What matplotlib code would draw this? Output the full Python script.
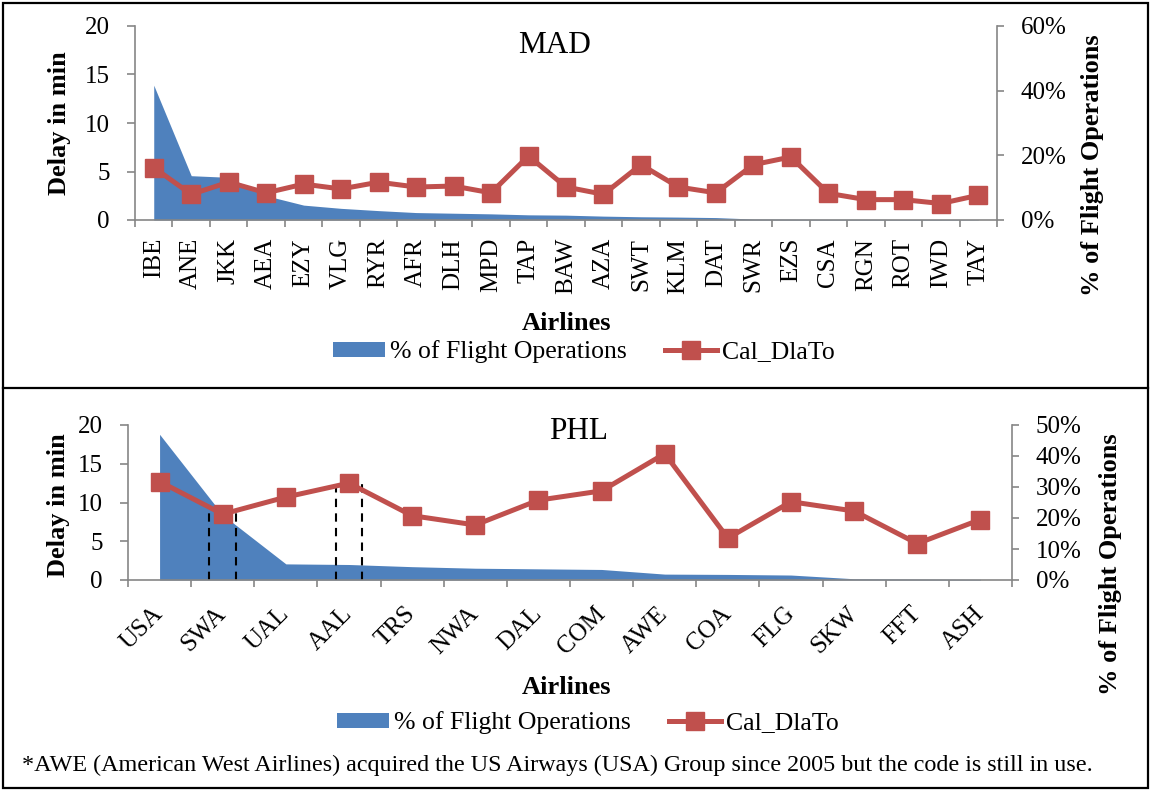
import numpy as np
import matplotlib
matplotlib.use("Agg")
import matplotlib.pyplot as plt
from matplotlib.patches import Patch, Rectangle
from matplotlib.lines import Line2D
from matplotlib.ticker import PercentFormatter

plt.rcParams['font.family'] = ['Liberation Serif', 'DejaVu Serif']

BLUE = '#4F81BD'
RED = '#C0504D'
GRAY = '#868686'

# MAD data
mad_airlines = ['IBE', 'ANE', 'JKK', 'AEA', 'EZY', 'VLG', 'RYR', 'AFR', 'DLH', 'MPD', 'TAP', 'BAW',
                'AZA', 'SWT', 'KLM', 'DAT', 'SWR', 'EZS', 'CSA', 'RGN', 'ROT', 'IWD', 'TAY']
mad_ops = [41.7, 13.7, 13.2, 7.5, 4.6, 3.6, 2.9, 2.3, 2.1, 1.9, 1.6, 1.5,
           1.2, 1.0, 0.9, 0.75, 0.3, 0.25, 0.2, 0.2, 0.15, 0.15, 0.1]
mad_delay = [5.4, 2.65, 3.9, 2.8, 3.7, 3.2, 3.9, 3.4, 3.5, 2.8, 6.6, 3.4,
             2.65, 5.7, 3.4, 2.8, 5.7, 6.5, 2.75, 2.1, 2.1, 1.7, 2.55]

# PHL data
phl_airlines = ['USA', 'SWA', 'UAL', 'AAL', 'TRS', 'NWA', 'DAL', 'COM', 'AWE', 'COA', 'FLG', 'SKW', 'FFT', 'ASH']
phl_ops = [47.0, 21.0, 5.2, 5.0, 4.3, 3.8, 3.6, 3.4, 1.9, 1.8, 1.6, 0.4, 0.3, 0.2]
phl_delay = [12.7, 8.5, 10.7, 12.5, 8.3, 7.1, 10.3, 11.5, 16.3, 5.4, 10.1, 8.9, 4.7, 7.8]
phl_marked = ['SWA', 'AAL']   # dashed markers around these airlines

FS = 18
BOLD = 19


def draw_panel(fig, rect, title, names, ops, delay, ops_max, ops_step, rot):
    n = len(names)
    x = np.arange(n)
    ax = fig.add_axes(rect)
    ax2 = ax.twinx()
    ax.set_zorder(ax2.get_zorder() + 1)
    ax.patch.set_visible(False)

    ax2.fill_between(x, 0, ops, color=BLUE, lw=0)
    ax.plot(x, delay, color=RED, lw=3.6, marker='s', ms=13.5, mec=RED, mfc=RED)

    ax.set_xlim(-0.5, n - 0.5)
    ax.set_ylim(0, 20)
    ax.set_yticks(np.arange(0, 21, 5))
    ax2.set_ylim(0, ops_max)
    ax2.set_yticks(np.arange(0, ops_max + 1, ops_step))
    ax2.yaxis.set_major_formatter(PercentFormatter(xmax=100, decimals=0))

    ax.set_xticks(np.arange(n + 1) - 0.5)
    ax.set_xticklabels([])
    ax.set_xticks(x, minor=True)
    if rot == 90:
        ax.set_xticklabels(names, minor=True, rotation=90, fontsize=FS)
        ax.tick_params(axis='x', which='minor', length=0, pad=13)
    else:
        ax.set_xticklabels(names, minor=True, rotation=45, ha='right', va='center',
                           rotation_mode='anchor', fontsize=FS)
        ax.tick_params(axis='x', which='minor', length=0, pad=22)

    for a in (ax, ax2):
        for s in a.spines.values():
            s.set_visible(False)
    ax.tick_params(axis='y', color=GRAY, length=6, width=1.2, labelsize=FS, pad=12)
    ax2.tick_params(axis='y', color=GRAY, length=5, width=1.2, labelsize=FS, pad=12)
    ax.tick_params(axis='x', which='major', color=GRAY, length=5, width=1.2)
    ax.spines['left'].set_visible(True)
    ax.spines['bottom'].set_visible(True)
    ax2.spines['right'].set_visible(True)
    for s in (ax.spines['left'], ax.spines['bottom'], ax2.spines['right']):
        s.set_color(GRAY)
        s.set_linewidth(1.2)

    ax.text(0.5, 0.88, title, transform=ax.transAxes, ha='center', va='center', fontsize=22.5)
    return ax, ax2


fig = plt.figure(figsize=(11.51, 7.91), dpi=100)
W, H = 1151.0, 791.0

# top panel
ax_m, ax_m2 = draw_panel(fig, [135 / W, 1 - 220 / H, 862 / W, 194 / H], 'MAD',
                         mad_airlines, mad_ops, mad_delay, 60, 20, 90)
ax_m.texts[0].set_position((0.487, 0.9))
fig.text(60 / W, 1 - 123 / H, 'Delay in min', rotation=90, ha='center', va='center',
         fontsize=BOLD, fontweight='bold')
fig.text(1093 / W, 1 - 165 / H, '% of Flight Operations', rotation=90, ha='center', va='center',
         fontsize=BOLD, fontweight='bold')
fig.text(567 / W, 1 - 323 / H, 'Airlines', ha='center', va='center', fontsize=BOLD, fontweight='bold')

# bottom panel
ax_p, ax_p2 = draw_panel(fig, [128 / W, 1 - 580 / H, 884 / W, 155 / H], 'PHL',
                         phl_airlines, phl_ops, phl_delay, 50, 10, 45)
ax_p.texts[0].set_position((0.51, 0.96))
for name in phl_marked:
    i = phl_airlines.index(name)
    for dx in (-0.21, 0.21):
        ax_p.plot([i + dx, i + dx], [0, phl_delay[i] + 0.2], color='black', lw=1.5,
                  ls=(0, (4, 3)), zorder=1)
fig.text(58 / W, 1 - 505 / H, 'Delay in min', rotation=90, ha='center', va='center',
         fontsize=BOLD, fontweight='bold')
fig.text(1110 / W, 1 - 564 / H, '% of Flight Operations', rotation=90, ha='center', va='center',
         fontsize=BOLD, fontweight='bold')
fig.text(566 / W, 1 - 688 / H, 'Airlines', ha='center', va='center', fontsize=BOLD, fontweight='bold')

# legends
handles = [Patch(facecolor=BLUE, edgecolor='none'),
           Line2D([0], [0], color=RED, lw=3.6, marker='s', ms=13.5, mec=RED, mfc=RED)]
labels = ['% of Flight Operations', 'Cal_DlaTo']
for yc, xc in ((352, 584), (723, 588)):
    fig.legend(handles, labels, loc='center', bbox_to_anchor=(xc / W, 1 - yc / H), ncol=2,
               frameon=False, fontsize=18.5, handlelength=2.0, handleheight=0.55,
               handletextpad=0.2, columnspacing=1.5, borderpad=0)

fig.text(22 / W, 1 - 765 / H,
         '*AWE (American West Airlines) acquired the US Airways (USA) Group since 2005 but the code is still in use.',
         ha='left', va='center', fontsize=17.4)

# frame around the figure and separator
fig.add_artist(Rectangle((3 / W, 3 / H), 1 - 6 / W, 1 - 6 / H, transform=fig.transFigure,
                         fill=False, edgecolor='black', lw=1.6))
fig.add_artist(Line2D([3 / W, 1 - 3 / W], [1 - 388 / H, 1 - 388 / H], transform=fig.transFigure,
                      color='black', lw=1.6))

fig.savefig('out.png', dpi=100)
